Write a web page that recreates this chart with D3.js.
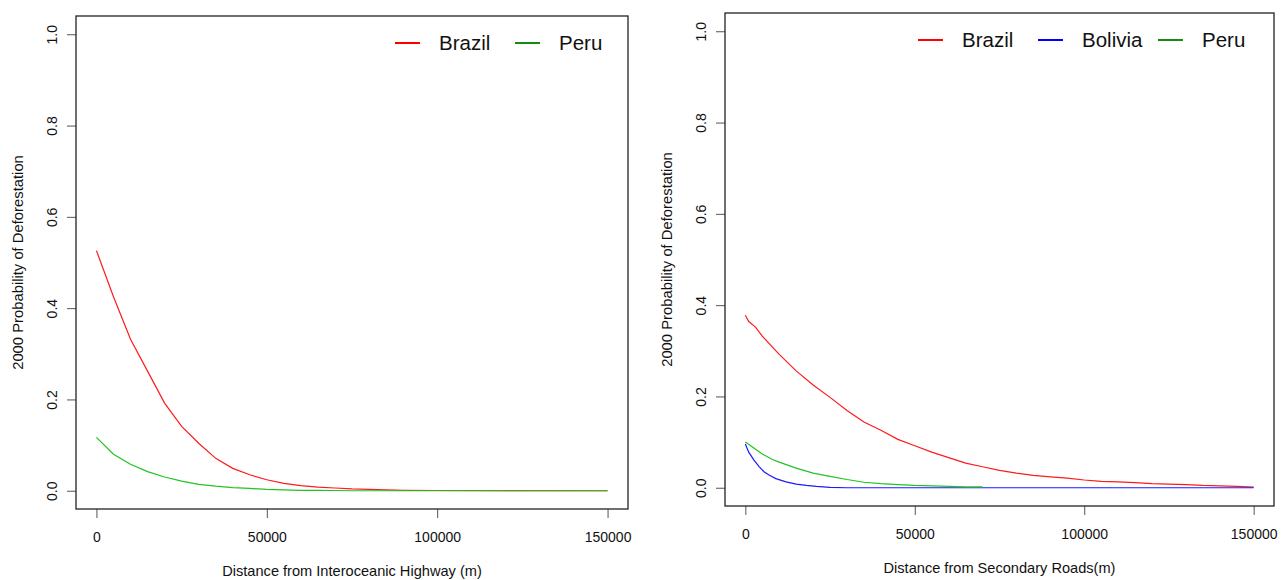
<!doctype html>
<meta charset="utf-8">
<style>
body { margin: 0; background: #fff; }
text { font-family: "Liberation Sans", Arial, sans-serif; fill: #111; }
</style>
<script src="https://d3js.org/d3.v7.min.js"></script>
<body>
<svg id="chart" width="1281" height="580"></svg>
<script>
// axis ticks (shared by both panels)
var xTicks = [0, 50000, 100000, 150000];
var yTicks = [0, 0.2, 0.4, 0.6, 0.8, 1.0];

// left panel: distance from the Interoceanic Highway (m)
var hwyDist   = [0, 5000, 10000, 15000, 20000, 25000, 30000, 35000, 40000, 45000, 50000,
                 55000, 60000, 65000, 70000, 75000, 80000, 85000, 90000, 100000, 150000];
var hwyBrazil = [0.526, 0.425, 0.332, 0.262, 0.192, 0.141, 0.104, 0.071, 0.049, 0.035, 0.024,
                 0.016, 0.011, 0.008, 0.006, 0.004, 0.003, 0.002, 0.001, 0.0005, 0];
var hwyPeru   = [0.117, 0.080, 0.058, 0.042, 0.030, 0.021, 0.014, 0.010, 0.007, 0.005, 0.003,
                 0.002, 0.001, 0.001, 0.0005, 0, 0, 0, 0, 0, 0];

// right panel: distance from secondary roads (m)
var secDist    = [0, 1000, 3000, 5000, 10000, 15000, 20000, 25000, 30000, 35000, 40000, 45000,
                  50000, 55000, 60000, 65000, 70000, 75000, 80000, 85000, 90000, 95000, 100000,
                  105000, 110000, 115000, 120000, 125000, 130000, 135000, 140000, 145000, 150000];
var secBrazil  = [0.378, 0.364, 0.352, 0.332, 0.292, 0.256, 0.225, 0.198, 0.169, 0.144, 0.126, 0.106,
                  0.092, 0.078, 0.066, 0.054, 0.046, 0.038, 0.032, 0.027, 0.024, 0.021, 0.017,
                  0.014, 0.013, 0.011, 0.009, 0.008, 0.007, 0.005, 0.004, 0.003, 0.0015];
var bolDist    = [0, 1000, 2500, 4000, 5500, 7000, 9000, 12000, 15000, 18000, 21000, 25000, 30000, 150000];
var secBolivia = [0.096, 0.078, 0.061, 0.047, 0.035, 0.028, 0.020, 0.013, 0.008, 0.005, 0.003, 0.001, 0, 0];
var peruDist   = [0, 2000, 5000, 8000, 10000, 15000, 20000, 25000, 30000, 35000, 40000, 45000,
                  50000, 55000, 60000, 65000, 70000];
var secPeru    = [0.100, 0.090, 0.074, 0.062, 0.056, 0.043, 0.032, 0.025, 0.018, 0.012, 0.009, 0.007,
                  0.005, 0.004, 0.003, 0.002, 0.002];

var svg = d3.select("#chart");
svg.append("rect").attr("width", 1281).attr("height", 580).attr("fill", "#fff");

var panels = [
  { left: 76, top: 16, right: 628, bottom: 509, legendX: 395,
    xTitle: "Distance from Interoceanic Highway (m)",
    series: [
      { name: "Brazil", dist: hwyDist, vals: hwyBrazil, color: "#ff1a1a", key: "#ff0000" },
      { name: "Peru",   dist: hwyDist, vals: hwyPeru,   color: "#22c322", key: "#148c14" }
    ] },
  { left: 725, top: 13, right: 1274, bottom: 506, legendX: 918,
    xTitle: "Distance from Secondary Roads(m)",
    series: [
      { name: "Brazil",  dist: secDist,  vals: secBrazil,  color: "#ff1a1a", key: "#ff0000" },
      { name: "Bolivia", dist: bolDist,  vals: secBolivia, color: "#1a1aff", key: "#0000ff" },
      { name: "Peru",    dist: peruDist, vals: secPeru,    color: "#22c322", key: "#148c14" }
    ] }
];

panels.forEach(drawPanel);

function drawPanel(p) {
  // R style: data range padded by 4% on each side
  var xe = d3.extent(xTicks), ye = d3.extent(yTicks);
  var xp = (xe[1] - xe[0]) * 0.04, yp = (ye[1] - ye[0]) * 0.04;
  var x = d3.scaleLinear().domain([xe[0] - xp, xe[1] + xp]).range([p.left, p.right]);
  var y = d3.scaleLinear().domain([ye[0] - yp, ye[1] + yp]).range([p.bottom, p.top]);

  var g = svg.append("g");

  // curves
  var line = d3.line().x(function(d) { return x(d[0]); }).y(function(d) { return y(d[1]); });
  p.series.forEach(function(s) {
    var pts = s.dist.map(function(d, i) { return [d, s.vals[i]]; });
    g.append("path").datum(pts)
      .attr("d", line)
      .attr("fill", "none")
      .attr("stroke", s.color)
      .attr("stroke-width", 1.2);
  });

  // x axis
  var xa = g.append("g").attr("transform", "translate(0," + p.bottom + ")")
    .call(d3.axisBottom(x).tickValues(xTicks).tickFormat(d3.format("d")).tickSize(9).tickSizeOuter(0).tickPadding(14));
  xa.select(".domain").remove();
  xa.selectAll("line").attr("stroke", "#555");
  xa.selectAll("text")
    .attr("font-family", "Liberation Sans, Arial, sans-serif")
    .attr("font-size", 14)
    .attr("fill", "#111");

  // y axis, labels parallel to the axis
  var ya = g.append("g").attr("transform", "translate(" + p.left + ",0)")
    .call(d3.axisLeft(y).tickValues(yTicks).tickFormat(d3.format(".1f")).tickSize(9).tickSizeOuter(0));
  ya.select(".domain").remove();
  ya.selectAll("line").attr("stroke", "#555");
  ya.selectAll("text")
    .attr("x", 0)
    .attr("dy", "0.35em")
    .attr("text-anchor", "middle")
    .attr("font-family", "Liberation Sans, Arial, sans-serif")
    .attr("font-size", 14)
    .attr("fill", "#111")
    .attr("transform", "translate(-24,0) rotate(-90)");

  // frame
  g.append("rect")
    .attr("x", p.left).attr("y", p.top)
    .attr("width", p.right - p.left).attr("height", p.bottom - p.top)
    .attr("fill", "none").attr("stroke", "#222").attr("stroke-width", 1.3);

  // axis titles
  var cx = (p.left + p.right) / 2, cy = (p.top + p.bottom) / 2;
  g.append("text")
    .attr("text-anchor", "middle")
    .attr("font-size", 14.6)
    .attr("x", cx).attr("y", p.bottom + 67)
    .text(p.xTitle);
  g.append("text")
    .attr("text-anchor", "middle")
    .attr("font-size", 14.8)
    .attr("dy", "0.35em")
    .attr("transform", "translate(" + (p.left - 58) + "," + cy + ") rotate(-90)")
    .text("2000 Probability of Deforestation");

  // legend
  var ly = p.top + 27;
  p.series.forEach(function(s, i) {
    var lx = p.legendX + i * 120;
    g.append("line")
      .attr("x1", lx).attr("x2", lx + 25)
      .attr("y1", ly).attr("y2", ly)
      .attr("stroke", s.key).attr("stroke-width", 2);
    g.append("text")
      .attr("font-size", 20.5)
      .attr("dy", "0.36em")
      .attr("x", lx + 44).attr("y", ly)
      .text(s.name);
  });
}
</script>
</body>
